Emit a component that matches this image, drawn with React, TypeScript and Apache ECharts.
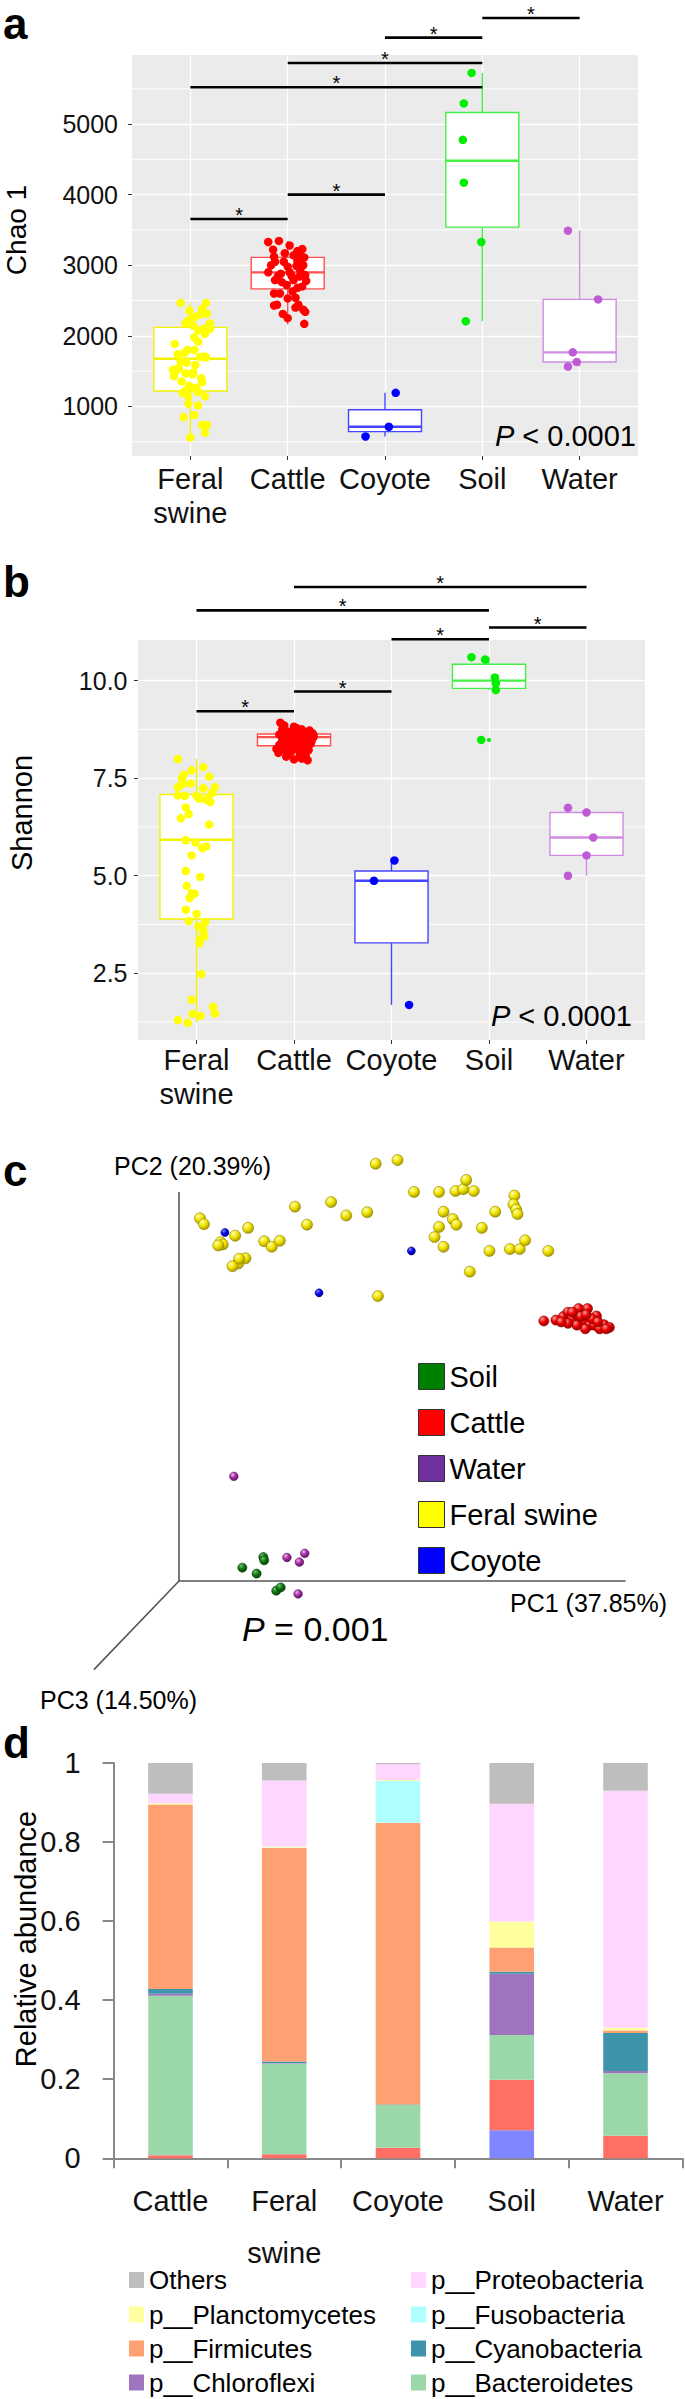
import React, { useEffect, useRef } from 'react';
import * as echarts from 'echarts';

const FONT = "'Liberation Sans', Arial, Helvetica, sans-serif";

// ---------- panels a & b ----------
const groups = ['Feral\nswine', 'Cattle', 'Coyote', 'Soil', 'Water'];
const groupPointColors = ['#FFFF00', '#FF0000', '#0000FF', '#00EE00', '#C05BD8'];
const groupBoxColors = ['#F2F200', '#FF4F4F', '#4545FF', '#45F045', '#D08CE0'];
const groupPositions = [0, 1, 2, 3, 4];
const xRange = [-0.6, 4.6];

const chaoTicks = [1000, 2000, 3000, 4000, 5000];
const chaoMinor = [500, 1500, 2500, 3500, 4500, 5500];
const shannonTicks = [2.5, 5, 7.5, 10];
const shannonMinor = [1.25, 3.75, 6.25, 8.75];

// [low whisker, Q1, median, Q3, high whisker]
const chaoBoxes = [
  [559, 1218, 1675, 2120, 2466],
  [2160, 2665, 2899, 3112, 3345],
  [574, 642, 711, 952, 1192],
  [2207, 3540, 4480, 5164, 5725],
  [1565, 1630, 1766, 2516, 3490],
];
const shannonBoxes = [
  [1.23, 3.89, 5.92, 7.08, 7.99],
  [7.96, 8.33, 8.55, 8.63, 8.92],
  [1.69, 3.28, 4.87, 5.12, 5.39],
  [9.76, 9.8, 10.0, 10.42, 10.6],
  [5.0, 5.52, 5.98, 6.62, 6.74],
];

// jittered points: [horizontal jitter, value]
const chaoFeral = [
  [-0.1, 2466], [0.16, 2466], [-0.01, 2356], [0.12, 2381], [0.04, 2265], [0.17, 2314], [-0.05, 2178],
  [0.03, 2143], [0.2, 2178], [0.08, 2077], [0.14, 2102], [0.04, 1976], [0.15, 2027], [-0.16, 1885],
  [-0.03, 1799], [0.04, 1799], [-0.13, 1738], [0.15, 1708], [-0.1, 1637], [0.05, 1586], [-0.18, 1521],
  [-0.05, 1470], [0.03, 1480], [-0.17, 1429], [-0.09, 1354], [0.12, 1344], [-0.01, 1293], [0.04, 1252],
  [-0.06, 1217], [0.08, 1207], [0.15, 1142], [-0.02, 1040], [0.08, 1014], [-0.07, 848], [0.04, 878],
  [0.12, 737], [0.17, 737], [0.15, 625], [0.0, 559], [0.08, 1920], [0.1, 1700], [-0.12, 1540],
  [-0.02, 1140], [-0.08, 1190], [0.11, 1400], [-0.15, 1500], [0.02, 1455], [0.16, 1690], [-0.06, 1760],
  [0.1, 2300], [0.2, 2100], [-0.02, 2220], [0.06, 1260], [-0.04, 1620],
];
const chaoCattle = [
  [-0.2, 3330], [-0.09, 3345], [0.02, 3280], [0.15, 3230], [-0.15, 3220], [-0.03, 3170], [0.12, 3150],
  [0.17, 3110], [-0.14, 3120], [0.06, 3140], [-0.13, 3050], [0.1, 3060], [0.16, 3000], [-0.04, 3050],
  [0.09, 2990], [-0.2, 2900], [-0.07, 2880], [0.02, 2900], [0.13, 2920], [0.18, 2860], [-0.13, 2790],
  [-0.06, 2760], [0.06, 2790], [0.19, 2780], [-0.01, 2720], [0.15, 2700], [0.1, 2680], [-0.14, 2600],
  [0.05, 2630], [0.0, 2530], [0.08, 2540], [-0.11, 2440], [-0.14, 2430], [0.11, 2440], [0.16, 2370],
  [0.08, 2400], [-0.05, 2310], [0.0, 2250], [0.17, 2170], [0.18, 2340], [0.12, 2840], [-0.1, 2850],
  [0.04, 2850], [-0.17, 3000], [0.1, 3200], [0.0, 2980], [0.14, 3080], [-0.08, 2600],
];
const chaoCoyote = [[0.11, 1192], [0.04, 711], [-0.2, 574]];
const chaoSoil = [[-0.11, 5725], [-0.19, 5293], [-0.2, 4777], [-0.19, 4170], [-0.01, 3330], [-0.17, 2207]];
const chaoWater = [[-0.12, 3490], [0.19, 2516], [-0.07, 1766], [-0.03, 1630], [-0.12, 1565]];

const shannonFeral = [
  [-0.19, 7.99], [-0.05, 7.7], [0.07, 7.78], [-0.13, 7.59], [0.13, 7.54], [-0.19, 7.27], [-0.06, 7.36],
  [0.07, 7.24], [0.19, 7.27], [-0.19, 7.06], [-0.12, 7.05], [0.03, 6.97], [0.12, 7.0], [0.14, 6.89],
  [-0.11, 6.75], [-0.08, 6.58], [-0.16, 6.47], [0.13, 6.31], [-0.11, 5.91], [-0.01, 5.85], [0.06, 5.71],
  [-0.05, 5.52], [-0.11, 5.12], [0.04, 4.97], [-0.1, 4.74], [-0.02, 4.54], [-0.07, 4.43], [-0.11, 4.13],
  [0.0, 4.02], [-0.08, 3.84], [0.09, 3.81], [0.06, 3.65], [0.07, 3.58], [0.04, 3.38], [0.03, 3.27],
  [0.05, 2.48], [-0.05, 1.82], [0.17, 1.64], [0.19, 1.47], [-0.04, 1.46], [0.04, 1.41], [-0.19, 1.3],
  [-0.09, 1.23], [0.0, 7.05], [0.16, 7.12], [-0.15, 7.5], [0.1, 5.75], [-0.05, 4.55], [0.08, 3.45],
  [-0.14, 7.35], [0.1, 6.95], [0.02, 3.7],
];
const shannonCattle = [
  [-0.14, 8.92], [-0.1, 8.85], [0.0, 8.82], [0.03, 8.78], [0.08, 8.75], [0.16, 8.72], [0.19, 8.65],
  [-0.12, 8.75], [-0.07, 8.7], [-0.03, 8.68], [0.05, 8.66], [0.12, 8.62], [0.2, 8.55], [-0.15, 8.62],
  [-0.09, 8.58], [-0.04, 8.55], [0.01, 8.58], [0.07, 8.52], [0.14, 8.5], [0.18, 8.45], [-0.12, 8.5],
  [-0.06, 8.45], [0.0, 8.47], [0.05, 8.42], [0.1, 8.4], [0.17, 8.38], [-0.13, 8.4], [-0.08, 8.35],
  [-0.02, 8.33], [0.04, 8.3], [0.12, 8.3], [-0.18, 8.25], [-0.1, 8.22], [-0.03, 8.2], [0.02, 8.25],
  [0.09, 8.18], [0.15, 8.22], [-0.16, 8.15], [-0.05, 8.12], [0.06, 8.1], [0.12, 8.08], [-0.08, 8.05],
  [0.0, 7.98], [0.08, 8.0], [0.14, 7.96], [-0.15, 8.35], [0.2, 8.6], [-0.01, 8.62],
];
const shannonCoyote = [[0.03, 5.39], [-0.18, 4.87], [0.18, 1.69]];
const shannonSoil = [[-0.18, 10.6], [-0.04, 10.54], [0.06, 10.08], [0.07, 9.93], [0.07, 9.76], [-0.08, 8.48]];
const shannonWater = [[-0.19, 6.74], [0.0, 6.62], [0.07, 5.98], [0.0, 5.52], [-0.19, 5.0]];
const shannonOutliers = [[3, 8.48]];

// significance brackets: [from group, to group, height]
const chaoBrackets = [[0, 1, 3655], [1, 2, 4000], [0, 3, 5522], [1, 3, 5865], [2, 3, 6225], [3, 4, 6503]];
const shannonBrackets = [[0, 1, 9.215], [1, 2, 9.72], [2, 3, 11.06], [3, 4, 11.36], [0, 3, 11.8], [1, 4, 12.4]];

// ---------- panel c (PCoA, projected PC1 / PC2) ----------
const pcoaSoil = [[18.9, 5.2], [19.1, 4.5], [14.2, 2.9], [17.4, 1.6], [21.8, -2.1], [22.8, -1.4]];
const pcoaWater = [[12.3, 22.7], [24.2, 5.1], [28.2, 6.0], [27.0, 4.1], [26.7, -2.8]];
const pcoaCoyote = [[10.3, 75.6], [52.1, 71.6], [31.4, 62.5]];
const pcoaCattle = [
  [81.8, 56.4], [84.5, 56.6], [86.2, 57.4], [87.2, 58.3], [88.2, 56.9], [89.2, 57.8], [89.6, 59.1],
  [91.6, 59.1], [90.6, 56.4], [92.1, 55.5], [93.6, 57.5], [93.1, 55.5], [95.3, 55.6], [96.5, 55.0],
  [91.1, 54.7], [89.2, 55.5], [87.2, 55.9], [85.7, 56.2], [90.1, 57.4], [92.6, 56.9], [94.3, 54.7],
  [88.2, 58.3], [91.3, 57.8], [93.9, 56.2], [95.8, 54.7],
];
const pcoaFeral = [
  [44.1, 90.5], [49.0, 91.3], [52.7, 84.4], [58.3, 84.4], [62.0, 84.6], [63.7, 85.0], [64.4, 87.0],
  [66.1, 84.6], [75.2, 83.6], [75.0, 81.7], [75.6, 80.6], [75.9, 79.6], [70.9, 80.1], [59.3, 80.1],
  [61.4, 78.5], [62.2, 77.3], [58.3, 76.8], [67.9, 76.6], [57.3, 74.6], [59.3, 72.5], [69.6, 71.6],
  [74.2, 72.0], [76.4, 72.0], [77.6, 73.9], [82.8, 71.6], [65.2, 67.1], [44.6, 61.8], [42.2, 80.0],
  [37.5, 79.3], [34.1, 82.2], [26.0, 81.2], [28.7, 77.3], [15.5, 76.6], [12.6, 74.9], [9.3, 73.5],
  [9.8, 73.0], [8.8, 72.8], [19.1, 73.7], [20.8, 72.5], [22.6, 73.8], [4.7, 78.7], [5.6, 77.4],
  [14.9, 70.0], [13.3, 68.9], [12.0, 68.3], [13.5, 69.9],
];

// ---------- panel d ----------
const dCategories = ['Cattle', 'Feral\nswine', 'Coyote', 'Soil', 'Water'];
const dTicks = [0, 0.2, 0.4, 0.6, 0.8, 1];
const phyla = [
  'p__Acidobacteria', 'p__Actinobacteria', 'p__Bacteroidetes', 'p__Chloroflexi', 'p__Cyanobacteria',
  'p__Firmicutes', 'p__Fusobacteria', 'p__Planctomycetes', 'p__Proteobacteria', 'Others',
];
const phylumColors = [
  '#7F86FF', '#FF6F66', '#9BD8A9', '#9F74BF', '#3E94AB', '#FFA072', '#B0FFFF', '#FFFFA0', '#FFD6FF', '#BEBEBE',
];
const acidobacteria = [0, 0, 0, 0.071, 0];
const actinobacteria = [0.008, 0.01, 0.027, 0.128, 0.057];
const bacteroidetes = [0.403, 0.23, 0.108, 0.113, 0.158];
const chloroflexi = [0.005, 0.001, 0, 0.155, 0.006];
const cyanobacteria = [0.012, 0.004, 0.001, 0.005, 0.096];
const firmicutes = [0.467, 0.54, 0.713, 0.061, 0.006];
const fusobacteria = [0, 0.001, 0.106, 0, 0];
const planctomycetes = [0.003, 0.003, 0.002, 0.066, 0.007];
const proteobacteria = [0.024, 0.167, 0.04, 0.298, 0.6];
const others = [0.078, 0.044, 0.003, 0.103, 0.07];
const phylumValues = [
  acidobacteria, actinobacteria, bacteroidetes, chloroflexi, cyanobacteria,
  firmicutes, fusobacteria, planctomycetes, proteobacteria, others,
];
// legend layout: rows of [left column, right column]
const legendRows = [
  ['Others', 'p__Proteobacteria'],
  ['p__Planctomycetes', 'p__Fusobacteria'],
  ['p__Firmicutes', 'p__Cyanobacteria'],
  ['p__Chloroflexi', 'p__Bacteroidetes'],
];

// ---------- renderers ----------
const makeBoxRender = (colors: string[]) => (params: any, api: any) => {
  const k = api.value(0);
  const lo = api.coord([k, api.value(1)]);
  const q1 = api.coord([k, api.value(2)]);
  const md = api.coord([k, api.value(3)]);
  const q3 = api.coord([k, api.value(4)]);
  const hi = api.coord([k, api.value(5)]);
  const w = api.size([0.75, 0])[0];
  const c = colors[params.dataIndex];
  const x = lo[0];
  return {
    type: 'group',
    children: [
      { type: 'line', shape: { x1: x, y1: lo[1], x2: x, y2: q1[1] }, style: { stroke: c, lineWidth: 1.4 } },
      { type: 'line', shape: { x1: x, y1: q3[1], x2: x, y2: hi[1] }, style: { stroke: c, lineWidth: 1.4 } },
      {
        type: 'rect',
        shape: { x: x - w / 2, y: q3[1], width: w, height: q1[1] - q3[1] },
        style: { fill: '#FFFFFF', stroke: c, lineWidth: 1.4 },
      },
      { type: 'line', shape: { x1: x - w / 2, y1: md[1], x2: x + w / 2, y2: md[1] }, style: { stroke: c, lineWidth: 2.4 } },
    ],
  };
};

const minorRender = (params: any, api: any) => {
  const v = api.value(0);
  const p1 = api.coord([xRange[0], v]);
  const p2 = api.coord([xRange[1], v]);
  return {
    type: 'line', shape: { x1: p1[0], y1: p1[1], x2: p2[0], y2: p2[1] },
    style: { stroke: '#FFFFFF', lineWidth: 0.9 },
  };
};

const bracketRender = (params: any, api: any) => {
  const y = api.value(2);
  const p1 = api.coord([api.value(0), y]);
  const p2 = api.coord([api.value(1), y]);
  return {
    type: 'group',
    children: [
      { type: 'line', shape: { x1: p1[0], y1: p1[1], x2: p2[0], y2: p2[1] }, style: { stroke: '#000', lineWidth: 2.6 } },
      {
        type: 'text',
        style: {
          text: '*', x: (p1[0] + p2[0]) / 2, y: p1[1] - 4, align: 'center', verticalAlign: 'middle',
          fontSize: 20, fontFamily: FONT, fill: '#000',
        },
      },
    ],
  };
};

const sphere = (hi: string, mid: string, lo: string) => ({
  type: 'radial', x: 0.35, y: 0.3, r: 0.8,
  colorStops: [{ offset: 0, color: hi }, { offset: 0.45, color: mid }, { offset: 1, color: lo }],
});

function boxAxisX(gridIndex: number, margin: number) {
  return {
    type: 'value', gridIndex, min: xRange[0], max: xRange[1], minInterval: 1, maxInterval: 1,
    axisLine: { show: false, onZero: false },
    axisTick: { show: true, customValues: groupPositions, length: 4, lineStyle: { color: '#333', width: 1 } },
    axisLabel: {
      customValues: groupPositions, formatter: (v: number) => groups[Math.round(v)],
      fontSize: 29, lineHeight: 34, margin, color: '#111', fontFamily: FONT,
    },
    splitLine: { show: true, lineStyle: { color: '#FFFFFF', width: 1.3 } },
  };
}

function boxAxisY(gridIndex: number, min: number, max: number, ticks: number[], step: number, margin: number, fmt: (v: number) => string) {
  return {
    type: 'value', gridIndex, min, max, minInterval: step, maxInterval: step,
    axisLine: { show: false, onZero: false },
    axisTick: { show: true, customValues: ticks, length: 4, lineStyle: { color: '#333', width: 1 } },
    axisLabel: { customValues: ticks, formatter: fmt, fontSize: 25, margin, color: '#111', fontFamily: FONT },
    splitLine: { show: true, lineStyle: { color: '#FFFFFF', width: 1.3 } },
  };
}

function pointSeries(prefix: string, axis: number, sets: number[][][]) {
  return sets.map((pts, i) => ({
    type: 'scatter', name: prefix + ' ' + groups[i], xAxisIndex: axis, yAxisIndex: axis,
    data: pts.map(([dx, v]) => [groupPositions[i] + dx, v]),
    symbolSize: 8.5, itemStyle: { color: groupPointColors[i], opacity: 1 }, z: 3, silent: true,
  }));
}

function text(x: number, y: number, t: string, fontSize: number, extra: any = {}, rotation = 0) {
  return {
    type: 'text', x, y, rotation, z: 10, silent: true,
    style: { text: t, fontSize, fontFamily: FONT, fill: '#000', align: 'left', verticalAlign: 'middle', ...extra },
  };
}

function buildOption() {
  const series: any[] = [];
  // panel a
  series.push({
    type: 'custom', name: 'chaoMinor', xAxisIndex: 0, yAxisIndex: 0, z: 1, silent: true,
    renderItem: minorRender, encode: { y: 0 }, data: chaoMinor.map((v) => [v]),
  });
  series.push({
    type: 'custom', name: 'chaoBox', xAxisIndex: 0, yAxisIndex: 0, z: 2, silent: true,
    renderItem: makeBoxRender(groupBoxColors), encode: { x: 0, y: [1, 2, 3, 4, 5] },
    data: chaoBoxes.map((b, i) => [groupPositions[i], ...b]),
  });
  series.push(...pointSeries('Chao 1', 0, [chaoFeral, chaoCattle, chaoCoyote, chaoSoil, chaoWater]));
  series.push({
    type: 'custom', name: 'chaoSig', xAxisIndex: 0, yAxisIndex: 0, z: 4, silent: true, clip: false,
    renderItem: bracketRender, encode: { x: [0, 1], y: 2 }, data: chaoBrackets,
  });
  // panel b
  series.push({
    type: 'custom', name: 'shannonMinor', xAxisIndex: 1, yAxisIndex: 1, z: 1, silent: true,
    renderItem: minorRender, encode: { y: 0 }, data: shannonMinor.map((v) => [v]),
  });
  series.push({
    type: 'custom', name: 'shannonBox', xAxisIndex: 1, yAxisIndex: 1, z: 2, silent: true,
    renderItem: makeBoxRender(groupBoxColors), encode: { x: 0, y: [1, 2, 3, 4, 5] },
    data: shannonBoxes.map((b, i) => [groupPositions[i], ...b]),
  });
  series.push({
    type: 'scatter', name: 'Shannon outlier', xAxisIndex: 1, yAxisIndex: 1, data: shannonOutliers,
    symbolSize: 4, itemStyle: { color: groupPointColors[3], opacity: 1 }, z: 3, silent: true,
  });
  series.push(...pointSeries('Shannon', 1, [shannonFeral, shannonCattle, shannonCoyote, shannonSoil, shannonWater]));
  series.push({
    type: 'custom', name: 'shannonSig', xAxisIndex: 1, yAxisIndex: 1, z: 4, silent: true, clip: false,
    renderItem: bracketRender, encode: { x: [0, 1], y: 2 }, data: shannonBrackets,
  });
  // panel c
  const pc = [
    { name: 'Feral swine', data: pcoaFeral, size: 11, color: sphere('#FFFFB0', '#F2E400', '#9A8C00'), border: '#8A7E00' },
    { name: 'Cattle', data: pcoaCattle, size: 10, color: sphere('#FF9A9A', '#F00000', '#900000'), border: '#800000' },
    { name: 'Coyote', data: pcoaCoyote, size: 8, color: sphere('#8A8AFF', '#0000F0', '#000080'), border: '#000070' },
    { name: 'Water', data: pcoaWater, size: 8.5, color: sphere('#F0B0F0', '#A530A5', '#5A0A5A'), border: '#500850' },
    { name: 'Soil', data: pcoaSoil, size: 9, color: sphere('#70C070', '#0F780F', '#003A00'), border: '#003000' },
  ];
  pc.forEach((p) => {
    series.push({
      type: 'scatter', name: p.name, xAxisIndex: 2, yAxisIndex: 2, data: p.data, symbolSize: p.size,
      itemStyle: { color: p.color, opacity: 1, borderColor: p.border, borderWidth: 0.6 }, z: 3, silent: true, clip: false,
    });
  });
  // panel d
  phyla.forEach((name, i) => {
    series.push({
      type: 'bar', name, xAxisIndex: 3, yAxisIndex: 3, stack: 'abundance', data: phylumValues[i],
      barWidth: 44.6, itemStyle: { color: phylumColors[i] }, silent: true,
    });
  });

  const italicP = (size: number) => ({ i: { fontStyle: 'italic', fontSize: size, fontFamily: FONT, fill: '#000' } });

  const rowCenters = [2280, 2314.5, 2348.5, 2382.5];
  const colLefts = [129, 411];
  const dLegends: any[] = [];
  legendRows.forEach((row, r) => {
    row.forEach((name, c) => {
      dLegends.push({
        orient: 'vertical', icon: 'rect', selectedMode: false, padding: 0,
        left: colLefts[c], top: rowCenters[r] - 13, itemWidth: 15, itemHeight: 16, itemGap: 0,
        textStyle: { fontSize: 26, color: '#000', fontFamily: FONT },
        data: [name],
      });
    });
  });

  return {
    animation: false,
    backgroundColor: '#FFFFFF',
    grid: [
      { left: 132, top: 55, width: 506, height: 401, show: true, backgroundColor: '#EBEBEB', borderWidth: 0 },
      { left: 138, top: 640, width: 507, height: 400, show: true, backgroundColor: '#EBEBEB', borderWidth: 0 },
      { left: 179, top: 1120, width: 446, height: 507.1, show: false },
      { left: 113.6, top: 1763, width: 568.8, height: 395.3, show: false },
    ],
    xAxis: [
      boxAxisX(0, 6),
      boxAxisX(1, 3),
      { type: 'value', gridIndex: 2, min: 0, max: 100, show: false },
      {
        type: 'category', gridIndex: 3, data: dCategories,
        axisLine: { show: true, onZero: false, lineStyle: { color: '#888888', width: 2 } },
        axisTick: { show: true, length: 10, lineStyle: { color: '#888888', width: 2 } },
        axisLabel: {
          interval: 0, margin: 17, color: '#111', fontFamily: FONT, fontSize: 29,
          formatter: (v: string) => v.split('\n').map((s) => '{l|' + s + '}').join('\n'),
          rich: { l: { fontSize: 29, lineHeight: 52, color: '#111', fontFamily: FONT } },
        },
        splitLine: { show: false },
      },
    ],
    yAxis: [
      boxAxisY(0, 297, 5979, chaoTicks, 1000, 14, (v: number) => String(v)),
      boxAxisY(1, 0.79, 11.04, shannonTicks, 2.5, 10.5, (v: number) => v.toFixed(1)),
      { type: 'value', gridIndex: 2, min: -10, max: 100, show: false },
      {
        type: 'value', gridIndex: 3, min: 0, max: 1, interval: 0.2,
        axisLine: { show: true, onZero: false, lineStyle: { color: '#888888', width: 2 } },
        axisTick: { show: true, length: 11, customValues: dTicks, lineStyle: { color: '#888888', width: 2 } },
        axisLabel: {
          customValues: dTicks, fontSize: 29, margin: 33, color: '#111', fontFamily: FONT,
          formatter: (v: number) => (v === 0 ? '0' : v === 1 ? '1' : v.toFixed(1)),
        },
        splitLine: { show: false },
      },
    ],
    legend: [
      {
        orient: 'vertical', icon: 'rect', selectedMode: false, padding: 0,
        left: 418, top: 1362, itemWidth: 26, itemHeight: 26, itemGap: 17,
        textStyle: { fontSize: 29, color: '#000', fontFamily: FONT },
        data: [
          { name: 'Soil', itemStyle: { color: '#008000', borderColor: '#333', borderWidth: 1 } },
          { name: 'Cattle', itemStyle: { color: '#FF0000', borderColor: '#333', borderWidth: 1 } },
          { name: 'Water', itemStyle: { color: '#7030A0', borderColor: '#333', borderWidth: 1 } },
          { name: 'Feral swine', itemStyle: { color: '#FFFF00', borderColor: '#333', borderWidth: 1 } },
          { name: 'Coyote', itemStyle: { color: '#0000FF', borderColor: '#333', borderWidth: 1 } },
        ],
      },
      ...dLegends,
    ],
    graphic: [
      text(3, 23, 'a', 44, { fontWeight: 'bold' }),
      text(3, 581, 'b', 44, { fontWeight: 'bold' }),
      text(3, 1170, 'c', 44, { fontWeight: 'bold' }),
      text(3, 1742, 'd', 44, { fontWeight: 'bold' }),
      text(16, 230, 'Chao 1', 28, { align: 'center' }, Math.PI / 2),
      text(22, 813, 'Shannon', 29, { align: 'center' }, Math.PI / 2),
      text(26, 1939, 'Relative abundance', 29, { align: 'center' }, Math.PI / 2),
      text(636, 436, '{i|P} < 0.0001', 29, { align: 'right', rich: italicP(29) }),
      text(632, 1016, '{i|P} < 0.0001', 29, { align: 'right', rich: italicP(29) }),
      text(242, 1629, '{i|P} = 0.001', 34, { rich: italicP(34) }),
      text(114, 1166, 'PC2 (20.39%)', 25),
      text(510, 1603, 'PC1 (37.85%)', 25),
      text(40, 1700, 'PC3 (14.50%)', 25),
      { type: 'line', silent: true, shape: { x1: 179, y1: 1192, x2: 179, y2: 1581 }, style: { stroke: '#555', lineWidth: 1.6 } },
      { type: 'line', silent: true, shape: { x1: 179, y1: 1581, x2: 625.6, y2: 1581 }, style: { stroke: '#555', lineWidth: 1.6 } },
      { type: 'line', silent: true, shape: { x1: 179, y1: 1581, x2: 93.9, y2: 1669.6 }, style: { stroke: '#555', lineWidth: 1.6 } },
    ],
    series,
  };
}

export default function App() {
  const ref = useRef<HTMLDivElement>(null);
  useEffect(() => {
    document.body.style.margin = '0';
    const chart = echarts.init(ref.current as HTMLDivElement, null, { renderer: 'svg' });
    chart.setOption(buildOption() as any);
    return () => chart.dispose();
  }, []);
  return <div ref={ref} style={{ width: 685, height: 2399 }} />;
}
